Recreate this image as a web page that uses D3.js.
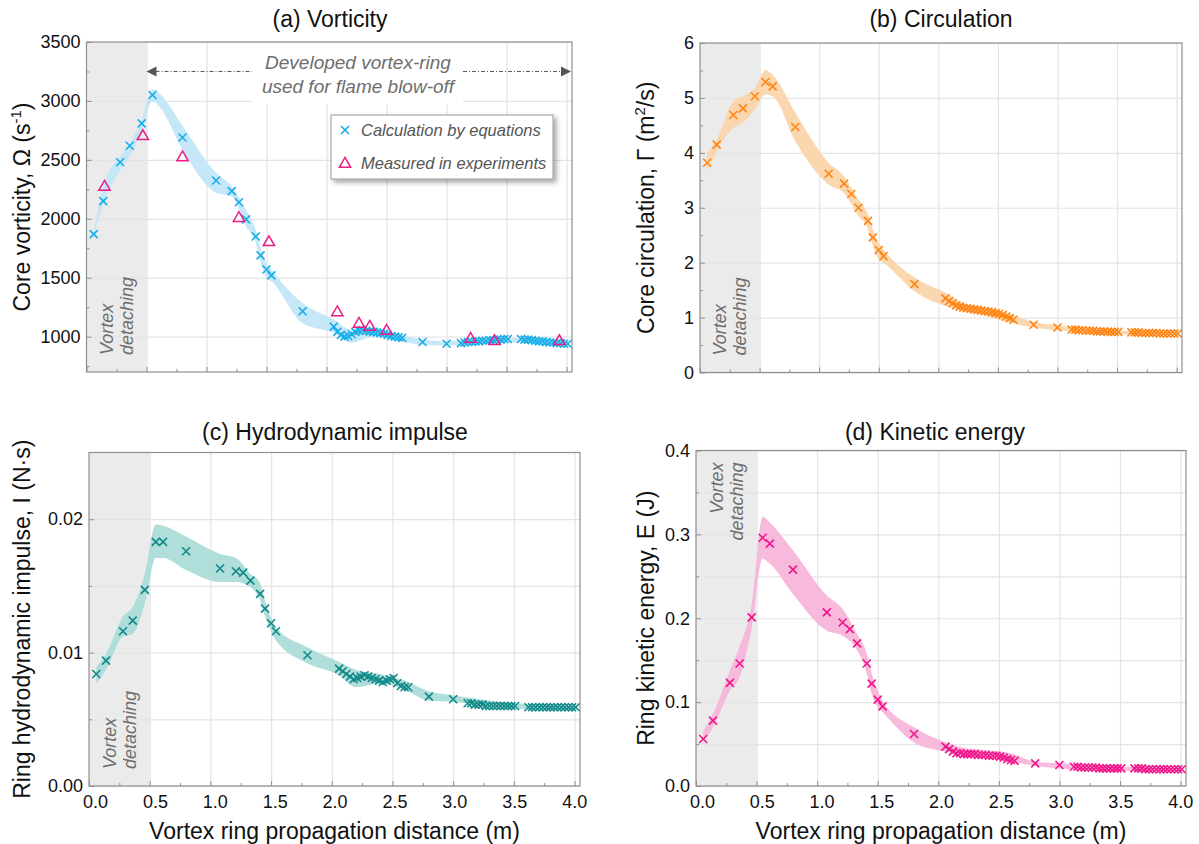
<!DOCTYPE html>
<html lang="en">
<head>
<meta charset="utf-8">
<title>Vortex ring properties</title>
<script src="https://d3js.org/d3.v7.js"></script>
<style>
    body { margin: 0; background: #fff; }
    svg { font-family: "Liberation Sans", Arial, sans-serif; }
    .frame { fill: none; stroke: #8f8f8f; stroke-width: 1.2px; }
    .grid line { stroke: #e4e4e4; stroke-width: 1.2px; }
    .grid path { display: none; }
    .axis path { display: none; }
    .axis line { stroke: #8f8f8f; }
    .axis text { font-size: 18px; fill: #111; }
    .note { font-style: italic; fill: #6e6e6e; font-size: 18px; }
</style>
</head>
<body>
<svg width="1199" height="844"></svg>
<script type="text/javascript">
    // shared propagation distances (m) of the calculated points
    const distance = [
        0.06, 0.14, 0.28, 0.36, 0.46, 0.55, 0.61, 0.80, 1.08, 1.21, 1.27, 1.33, 1.41, 1.45, 1.50, 1.54, 1.80, 2.06,
        2.09, 2.12, 2.15, 2.18, 2.21, 2.24, 2.27, 2.30, 2.33, 2.36, 2.39, 2.42, 2.45, 2.48, 2.51, 2.54, 2.57, 2.60, 2.63,
        2.80, 3.00,
        3.12, 3.15, 3.18, 3.21, 3.24, 3.27, 3.30, 3.33, 3.36, 3.39, 3.42, 3.45, 3.48, 3.51,
        3.62, 3.65, 3.68, 3.71, 3.74, 3.77, 3.80, 3.83, 3.86, 3.89, 3.92, 3.95, 3.98, 4.01
    ];
    const vorticity = [
        1870, 2150, 2480, 2620, 2810, 3050, null, 2690, 2325, 2235, 2140, 1995, 1850, 1690, 1570, 1520, 1215, 1085,
        1040, 1015, 1000, 1005, 1020, 1040, 1050, 1055, 1050, 1045, 1040, 1035, 1030, 1025, 1015, 1005, 1000, 995, 990,
        955, 940,
        945, 950, 955, 955, 960, 960, 965, 965, 970, 970, 975, 975, 980, 980,
        980, 975, 975, 970, 965, 960, 960, 955, 950, 950, 945, 945, 940, 940
    ];
    const circulation = [
        3.82, 4.15, 4.69, 4.81, 5.03, 5.29, 5.21, 4.47, 3.62, 3.44, 3.25, 3.00, 2.76, 2.46, 2.23, 2.12, 1.61, 1.35,
        1.30, 1.26, 1.22, 1.20, 1.18, 1.17, 1.16, 1.15, 1.14, 1.13, 1.12, 1.11, 1.10, 1.08, 1.07, 1.05, 1.02, 0.99, 0.96,
        0.87, 0.82,
        0.78, 0.78, 0.77, 0.77, 0.76, 0.76, 0.76, 0.75, 0.75, 0.75, 0.74, 0.74, 0.74, 0.74,
        0.73, 0.73, 0.73, 0.72, 0.72, 0.72, 0.72, 0.72, 0.71, 0.71, 0.71, 0.71, 0.71, 0.71
    ];
    const impulse = [
        0.0084, 0.0094, 0.0116, 0.0124, 0.0147, 0.0183, 0.0183, 0.0176, 0.0163, 0.0161, 0.0160, 0.0154, 0.0144, 0.0133, 0.0122, 0.0116, 0.0098, 0.0088,
        0.0086, 0.0084, 0.0082, 0.0080, 0.0081, 0.0082, 0.0083, 0.0082, 0.0081, 0.0080, 0.0079, 0.0078, 0.0079, 0.0080, 0.0081, 0.0077, 0.0075, 0.0074, 0.0074,
        0.0067, 0.0065,
        0.0062, 0.0062, 0.0061, 0.0061, 0.0061, 0.0060, 0.0060, 0.0060, 0.0060, 0.0060, 0.0060, 0.0060, 0.0060, 0.0060,
        0.0059, 0.0059, 0.0059, 0.0059, 0.0059, 0.0059, 0.0059, 0.0059, 0.0059, 0.0059, 0.0059, 0.0059, 0.0059, 0.0059
    ];
    const energy = [
        0.056, 0.078, 0.123, 0.146, 0.201, 0.296, 0.289, 0.258, 0.207, 0.195, 0.187, 0.170, 0.146, 0.122, 0.103, 0.095, 0.062, 0.047,
        0.044, 0.041, 0.039, 0.039, 0.038, 0.038, 0.038, 0.038, 0.037, 0.037, 0.037, 0.036, 0.036, 0.036, 0.035, 0.034, 0.032, 0.031, 0.030,
        0.027, 0.025,
        0.023, 0.023, 0.022, 0.022, 0.022, 0.022, 0.022, 0.021, 0.021, 0.021, 0.021, 0.021, 0.021, 0.021,
        0.021, 0.021, 0.021, 0.020, 0.020, 0.020, 0.020, 0.020, 0.020, 0.020, 0.020, 0.020, 0.020, 0.020
    ];

    // experimental vorticity (triangles in panel a)
    const measuredDistance = [0.15, 0.47, 0.80, 1.27, 1.52, 2.09, 2.27, 2.36, 2.50, 3.20, 3.40, 3.94];
    const measuredVorticity = [2270, 2700, 2520, 2005, 1800, 1205, 1108, 1082, 1048, 980, 960, 960];

    // uncertainty bands
    const bandDistance = [0.06, 0.14, 0.28, 0.36, 0.46, 0.55, 0.61, 0.80, 1.08, 1.21, 1.33, 1.41, 1.45, 1.50, 1.54, 1.80, 2.06, 2.2, 2.4, 2.6, 2.8, 3.0, 3.5, 4.0];
    const vorticityLow  = [1850, 2130, 2410, 2530, 2750, 3000, 2950, 2585, 2220, 2190, 1935, 1795, 1630, 1500, 1470, 1115, 1030, 950, 1000, 960, 932, 925, 950, 925];
    const vorticityHigh = [1890, 2270, 2530, 2640, 2840, 3100, 3060, 2790, 2390, 2275, 2075, 1905, 1755, 1625, 1570, 1285, 1145, 1060, 1075, 1020, 975, 960, 990, 955];
    const circulationLow  = [3.67, 4.03, 4.45, 4.55, 4.79, 5.06, 5.03, 4.21, 3.42, 3.27, 2.85, 2.61, 2.30, 2.06, 2.00, 1.48, 1.21, 1.12, 1.03, 0.91, 0.82, 0.77, 0.70, 0.68];
    const circulationHigh = [4.00, 4.24, 4.94, 5.03, 5.18, 5.51, 5.42, 4.73, 3.82, 3.57, 3.15, 2.88, 2.61, 2.36, 2.24, 1.73, 1.45, 1.27, 1.18, 1.06, 0.92, 0.86, 0.76, 0.74];
    const impulseLow  = [0.0077, 0.0087, 0.0112, 0.0114, 0.0137, 0.0171, 0.0171, 0.0162, 0.0153, 0.0153, 0.0149, 0.0139, 0.0127, 0.0116, 0.0109, 0.0092, 0.0083, 0.0074, 0.0077, 0.0072, 0.0064, 0.0063, 0.0058, 0.0057];
    const impulseHigh = [0.0089, 0.0099, 0.0127, 0.0134, 0.0159, 0.0196, 0.0195, 0.0187, 0.0174, 0.0171, 0.0159, 0.0152, 0.0139, 0.0126, 0.0119, 0.0104, 0.0093, 0.0087, 0.0084, 0.0079, 0.0071, 0.0068, 0.0062, 0.0060];
    const energyLow  = [0.052, 0.070, 0.114, 0.130, 0.189, 0.271, 0.265, 0.229, 0.185, 0.179, 0.162, 0.134, 0.110, 0.094, 0.088, 0.052, 0.041, 0.037, 0.033, 0.029, 0.024, 0.021, 0.018, 0.018];
    const energyHigh = [0.066, 0.086, 0.138, 0.166, 0.217, 0.321, 0.314, 0.281, 0.227, 0.211, 0.181, 0.158, 0.134, 0.114, 0.102, 0.070, 0.052, 0.046, 0.043, 0.039, 0.029, 0.027, 0.023, 0.022];

    // ticks
    const xTicks = [0, 0.5, 1.0, 1.5, 2.0, 2.5, 3.0, 3.5, 4.0];
    const xMinor = [0.25, 0.75, 1.25, 1.75, 2.25, 2.75, 3.25, 3.75];
    const vorticityTicks = [1000, 1500, 2000, 2500, 3000, 3500];
    const vorticityMinor = [750, 1250, 1750, 2250, 2750, 3250];
    const circulationTicks = [0, 1, 2, 3, 4, 5, 6];
    const circulationMinor = [0.5, 1.5, 2.5, 3.5, 4.5, 5.5];
    const impulseTicks = [0, 0.01, 0.02];
    const impulseMinor = [0.005, 0.015];
    const energyTicks = [0, 0.1, 0.2, 0.3, 0.4];
    const energyMinor = [0.05, 0.15, 0.25, 0.35];

    const svg = d3.select("svg");
    const defs = svg.append("defs");
    const shadow = defs.append("filter").attr("id", "shadow")
        .attr("x", "-10%").attr("y", "-20%").attr("width", "130%").attr("height", "160%");
    shadow.append("feDropShadow").attr("dx", 3).attr("dy", 3).attr("stdDeviation", 2.5)
        .attr("flood-color", "#000").attr("flood-opacity", 0.35);

    const panels = [
        {
            title: "(a) Vorticity", titleX: 330, titleY: 27,
            left: 86.5, right: 572, top: 42, bottom: 372,
            domain: [700, 3500], ticks: vorticityTicks, minor: vorticityMinor, grid: vorticityTicks,
            fmt: d3.format("d"), values: vorticity, low: vorticityLow, high: vorticityHigh,
            color: "#17aee9", band: "#c2e6f8",
            ylabel: ["Core vorticity, Ω (s", "-1", ")"], ylabelX: 30,
            xLabels: false, notesTop: false
        },
        {
            title: "(b) Circulation", titleX: 941, titleY: 27,
            left: 700, right: 1182, top: 43, bottom: 372.5,
            domain: [0, 6], ticks: circulationTicks, minor: circulationMinor, grid: circulationTicks,
            fmt: d3.format("d"), values: circulation, low: circulationLow, high: circulationHigh,
            color: "#ff8514", band: "#fbd5ab",
            ylabel: ["Core circulation, Γ (m", "2", "/s)"], ylabelX: 654,
            xLabels: false, notesTop: false
        },
        {
            title: "(c) Hydrodynamic impulse", titleX: 335, titleY: 440,
            left: 89, right: 580, top: 452.5, bottom: 786,
            domain: [0, 0.025], ticks: impulseTicks, minor: impulseMinor, grid: impulseTicks.concat(impulseMinor),
            fmt: d3.format(".2f"), values: impulse, low: impulseLow, high: impulseHigh,
            color: "#108a89", band: "#abdcd9",
            ylabel: ["Ring hydrodynamic impulse, I (N·s)"], ylabelX: 30,
            xLabels: true, notesTop: false
        },
        {
            title: "(d) Kinetic energy", titleX: 935, titleY: 440,
            left: 696, right: 1186, top: 450.5, bottom: 786,
            domain: [0, 0.4], ticks: energyTicks, minor: energyMinor, grid: energyTicks.concat(energyMinor),
            fmt: d3.format(".1f"), values: energy, low: energyLow, high: energyHigh,
            color: "#f0168c", band: "#f8b6da",
            ylabel: ["Ring kinetic energy, E (J)"], ylabelX: 654,
            xLabels: true, notesTop: true
        }
    ];

    const crossPath = "M-4,-4L4,4M-4,4L4,-4";

    panels.forEach(function (p) {
        const x = d3.scaleLinear().domain([0, 4.045]).range([p.left, p.right]);
        const y = d3.scaleLinear().domain(p.domain).range([p.bottom, p.top]);
        const g = svg.append("g");
        const w = p.right - p.left, h = p.bottom - p.top;

        // vortex detaching zone
        g.append("rect")
            .attr("x", x(0)).attr("y", p.top)
            .attr("width", x(0.5) - x(0)).attr("height", h)
            .attr("fill", "#ebebeb");

        // grid
        g.append("g").attr("class", "grid")
            .attr("transform", "translate(0," + p.bottom + ")")
            .call(d3.axisBottom(x).tickValues(xTicks.slice(1)).tickSize(-h).tickFormat(""));
        g.append("g").attr("class", "grid")
            .attr("transform", "translate(" + p.left + ",0)")
            .call(d3.axisLeft(y).tickValues(p.grid).tickSize(-w).tickFormat(""));

        // uncertainty band
        const area = d3.area()
            .x(function (d, i) { return x(bandDistance[i]); })
            .y0(function (d, i) { return y(p.low[i]); })
            .y1(function (d, i) { return y(p.high[i]); })
            .curve(d3.curveMonotoneX);
        g.append("path").datum(bandDistance)
            .attr("d", area)
            .attr("fill", p.band)
            .attr("opacity", 0.95);

        // calculated points
        const pts = distance.map(function (d, i) { return [d, p.values[i]]; })
            .filter(function (d) { return d[1] !== null; });
        g.append("g").selectAll("path")
            .data(pts)
            .join("path")
            .attr("transform", function (d) { return "translate(" + x(d[0]) + "," + y(d[1]) + ")"; })
            .attr("d", crossPath)
            .attr("fill", "none")
            .attr("stroke", p.color)
            .attr("stroke-width", 1.6);

        // axes, ticks pointing inwards
        g.append("g").attr("class", "axis")
            .attr("transform", "translate(0," + p.bottom + ")")
            .call(d3.axisBottom(x).tickValues(xTicks).tickSize(-5).tickPadding(9)
                .tickFormat(p.xLabels ? d3.format(".1f") : ""))
            .selectAll("text").attr("dx", function (d) { return (6 - d * 1.6) + "px"; });
        g.append("g").attr("class", "axis")
            .attr("transform", "translate(0," + p.bottom + ")")
            .call(d3.axisBottom(x).tickValues(xMinor).tickSize(-3).tickFormat(""));
        g.append("g").attr("class", "axis")
            .attr("transform", "translate(" + p.left + ",0)")
            .call(d3.axisLeft(y).tickValues(p.ticks).tickSize(-5).tickPadding(6).tickFormat(p.fmt));
        g.append("g").attr("class", "axis")
            .attr("transform", "translate(" + p.left + ",0)")
            .call(d3.axisLeft(y).tickValues(p.minor).tickSize(-3).tickFormat(""));

        g.append("rect").attr("class", "frame")
            .attr("x", p.left).attr("y", p.top).attr("width", w).attr("height", h);

        // titles and labels
        svg.append("text")
            .attr("x", p.titleX).attr("y", p.titleY)
            .attr("text-anchor", "middle")
            .style("font-size", "23px").style("fill", "#111")
            .text(p.title);

        const yl = svg.append("text")
            .attr("transform", "translate(" + p.ylabelX + "," + (p.top + h / 2) + ") rotate(-90)")
            .attr("text-anchor", "middle")
            .style("font-size", "23px").style("fill", "#111");
        yl.append("tspan").text(p.ylabel[0]);
        if (p.ylabel.length > 1) {
            yl.append("tspan").attr("dy", -9).style("font-size", "15px").text(p.ylabel[1]);
            yl.append("tspan").attr("dy", 9).text(p.ylabel[2]);
        }

        if (p.xLabels) {
            svg.append("text")
                .attr("x", (p.left + p.right) / 2).attr("y", 839)
                .attr("text-anchor", "middle")
                .style("font-size", "23px").style("fill", "#111")
                .text("Vortex ring propagation distance (m)");
        }

        // "Vortex detaching" note
        const noteY = p.notesTop ? p.top + 12 : p.bottom - 17;
        const anchor = p.notesTop ? "end" : "start";
        [["Vortex", x(0.22)], ["detaching", x(0.39)]].forEach(function (t) {
            g.append("text").attr("class", "note")
                .attr("transform", "translate(" + t[1] + "," + noteY + ") rotate(-90)")
                .attr("text-anchor", anchor)
                .text(t[0]);
        });

        p.x = x; p.y = y; p.g = g;
    });

    // panel (a) extras: measured vorticity, annotation, legend
    const pa = panels[0];
    pa.g.append("g").selectAll("path")
        .data(measuredDistance.map(function (d, i) { return [d, measuredVorticity[i]]; }))
        .join("path")
        .attr("transform", function (d) { return "translate(" + pa.x(d[0]) + "," + pa.y(d[1]) + ")"; })
        .attr("d", d3.symbol(d3.symbolTriangle, 55))
        .attr("fill", "none")
        .attr("stroke", "#ec1c85")
        .attr("stroke-width", 1.5);

    const arrowY = pa.y(3250);
    pa.g.append("rect")
        .attr("x", 252).attr("y", pa.top + 1).attr("width", 211).attr("height", 61)
        .attr("fill", "#fff");
    const arrowLine = [[pa.x(0.5) + 9, 252], [463, pa.right - 9]];
    arrowLine.forEach(function (s) {
        pa.g.append("line")
            .attr("x1", s[0]).attr("x2", s[1]).attr("y1", arrowY).attr("y2", arrowY)
            .attr("stroke", "#555").attr("stroke-width", 1)
            .attr("stroke-dasharray", "4,2,1,2");
    });
    pa.g.append("path")
        .attr("d", "M" + pa.x(0.5) + "," + arrowY + "l10,-5v10z").attr("fill", "#555");
    pa.g.append("path")
        .attr("d", "M" + (pa.right - 1) + "," + arrowY + "l-10,-5v10z").attr("fill", "#555");
    [["Developed vortex-ring", 69], ["used for flame blow-off", 93]].forEach(function (t) {
        pa.g.append("text").attr("class", "note")
            .attr("x", 358).attr("y", t[1])
            .attr("text-anchor", "middle")
            .style("font-size", "19px")
            .text(t[0]);
    });

    const legend = pa.g.append("g");
    legend.append("rect")
        .attr("x", 331).attr("y", 115).attr("width", 222).attr("height", 64)
        .attr("fill", "#fff").attr("stroke", "#9a9a9a").attr("stroke-width", 1)
        .attr("filter", "url(#shadow)");
    legend.append("path")
        .attr("transform", "translate(345,130)")
        .attr("d", crossPath).attr("fill", "none")
        .attr("stroke", pa.color).attr("stroke-width", 1.6);
    legend.append("path")
        .attr("transform", "translate(345,164)")
        .attr("d", d3.symbol(d3.symbolTriangle, 55))
        .attr("fill", "none").attr("stroke", "#ec1c85").attr("stroke-width", 1.5);
    [["Calculation by equations", 136], ["Measured in experiments", 169]].forEach(function (t) {
        legend.append("text")
            .attr("x", 361).attr("y", t[1])
            .style("font-size", "16.5px").style("font-style", "italic").style("fill", "#555")
            .text(t[0]);
    });
</script>
</body>
</html>
